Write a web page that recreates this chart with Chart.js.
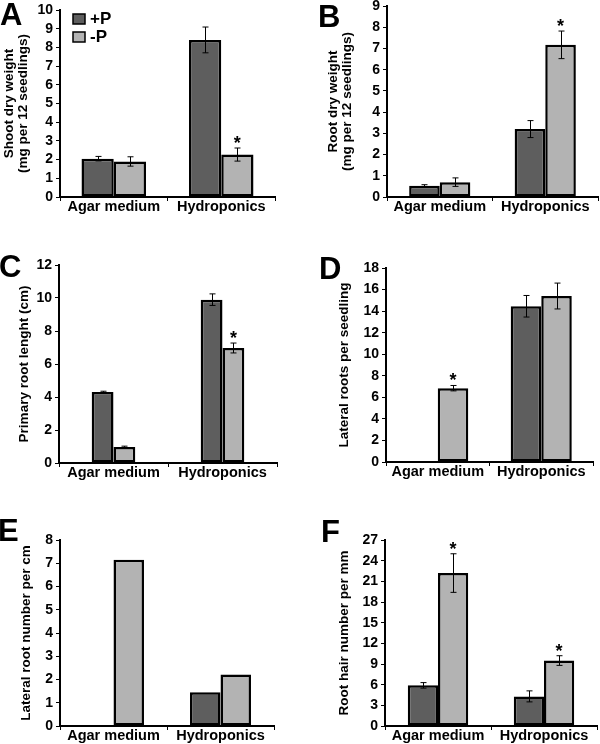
<!DOCTYPE html>
<html lang="en">
<head>
    <meta charset="UTF-8">
    <title>Shoot and root traits, +P / -P</title>
    <script src="https://cdn.jsdelivr.net/npm/chart.js"></script>
    <style>
        body {
            margin: 0;
            background: #fff;
            font-family: "Liberation Sans", Arial, sans-serif;
        }
        .page {
            position: relative;
            width: 600px;
            height: 744px;
        }
        .page canvas {
            position: absolute;
        }
        .letter {
            position: absolute;
            font-size: 31px;
            line-height: 31px;
            font-weight: bold;
            color: #000;
        }
    </style>
</head>
<body>
<div class="page">
    <canvas id="chartA" width="300" height="248" style="left:0;top:0"></canvas>
    <canvas id="chartB" width="300" height="248" style="left:300px;top:0"></canvas>
    <canvas id="chartC" width="300" height="248" style="left:0;top:248px"></canvas>
    <canvas id="chartD" width="300" height="248" style="left:300px;top:248px"></canvas>
    <canvas id="chartE" width="300" height="248" style="left:0;top:496px"></canvas>
    <canvas id="chartF" width="300" height="248" style="left:300px;top:496px"></canvas>
    <div class="letter" style="left:0;top:-1px">A</div>
    <div class="letter" style="left:318px;top:1px">B</div>
    <div class="letter" style="left:-1px;top:251px">C</div>
    <div class="letter" style="left:319px;top:253px">D</div>
    <div class="letter" style="left:-2px;top:515px">E</div>
    <div class="letter" style="left:321px;top:516px">F</div>
</div>
<script>
    // data
    const categories = ['Agar medium', 'Hydroponics'];
    const seriesNames = ['+P', '-P'];

    // A - shoot dry weight (mg per 12 seedlings)
    const shootPlus = [2.05, 8.4];
    const shootMinus = [1.9, 2.27];
    const shootPlusErr = [0.12, 0.69];
    const shootMinusErr = [0.25, 0.35];
    const shootStars = [false, true];

    // B - root dry weight (mg per 12 seedlings)
    const rootPlus = [0.53, 3.2];
    const rootMinus = [0.7, 7.17];
    const rootPlusErr = [0.05, 0.4];
    const rootMinusErr = [0.2, 0.65];
    const rootStars = [false, true];

    // C - primary root length (cm)
    const primaryPlus = [4.3, 9.9];
    const primaryMinus = [0.97, 6.97];
    const primaryPlusErr = [0.05, 0.35];
    const primaryMinusErr = [0.05, 0.3];
    const primaryStars = [false, true];

    // D - lateral roots per seedling
    const lateralPlus = [0.1, 14.45];
    const lateralMinus = [6.85, 15.4];
    const lateralPlusErr = [0, 1.0];
    const lateralMinusErr = [0.25, 1.2];
    const lateralStars = [true, false];

    // E - lateral root number per cm (no error bars)
    const densityPlus = [0.03, 1.45];
    const densityMinus = [7.15, 2.22];

    // F - root hair number per mm
    const hairPlus = [5.9, 4.3];
    const hairMinus = [22.2, 9.5];
    const hairPlusErr = [0.4, 0.8];
    const hairMinusErr = [2.8, 0.7];
    const hairStars = [true, true];

    const darkGray = '#5e5e5e';
    const lightGray = '#b3b3b3';
    const FONT = '"Liberation Sans", Arial, sans-serif';

    // error bars and asterisks
    const errorStars = {
        id: 'errorStars',
        afterDatasetsDraw(chart, args, opts) {
            const ctx = chart.ctx;
            const y = chart.scales.y;
            ctx.save();
            ctx.strokeStyle = '#000';
            ctx.lineWidth = 1;
            chart.data.datasets.forEach((ds, i) => {
                const errs = opts.errs ? opts.errs[i] : null;
                const stars = opts.stars ? opts.stars[i] : null;
                chart.getDatasetMeta(i).data.forEach((bar, j) => {
                    const v = ds.data[j];
                    let top = y.getPixelForValue(v);
                    if (errs && errs[j] > 0) {
                        const hi = y.getPixelForValue(v + errs[j]);
                        const lo = y.getPixelForValue(v - errs[j]);
                        const x = Math.round(bar.x) + 0.5;
                        ctx.beginPath();
                        ctx.moveTo(x, hi); ctx.lineTo(x, lo);
                        ctx.moveTo(x - 3, hi); ctx.lineTo(x + 3, hi);
                        ctx.moveTo(x - 3, lo); ctx.lineTo(x + 3, lo);
                        ctx.stroke();
                        top = hi;
                    }
                    if (stars && stars[j]) {
                        ctx.fillStyle = '#000';
                        ctx.font = 'bold 18px ' + FONT;
                        ctx.textAlign = 'center';
                        ctx.textBaseline = 'alphabetic';
                        ctx.fillText('*', bar.x, top + 1);
                    }
                });
            });
            ctx.restore();
        }
    };

    // small box legend inside the plot area (panel A only)
    const boxLegend = {
        id: 'boxLegend',
        afterDraw(chart, args, opts) {
            if (!opts.show) return;
            const ctx = chart.ctx;
            const a = chart.chartArea;
            ctx.save();
            chart.data.datasets.forEach((ds, i) => {
                const bx = a.left + 13;
                const by = a.top + 4 + i * 18;
                ctx.fillStyle = ds.backgroundColor;
                ctx.fillRect(bx, by, 12, 10);
                ctx.strokeStyle = '#000';
                ctx.lineWidth = 1.5;
                ctx.strokeRect(bx, by, 12, 10);
                ctx.fillStyle = '#000';
                ctx.font = 'bold 17px ' + FONT;
                ctx.textAlign = 'left';
                ctx.textBaseline = 'middle';
                ctx.fillText(ds.label, bx + 17, by + 5);
            });
            ctx.restore();
        }
    };

    function makePanel(id, p) {
        const H = 248, W = 300;
        const datasets = [p.plus, p.minus].map((vals, i) => ({
            label: seriesNames[i],
            data: vals,
            backgroundColor: i === 0 ? darkGray : lightGray,
            borderColor: '#000',
            borderWidth: 2.5,
            borderSkipped: false,
            categoryPercentage: p.catPct,
            barPercentage: 1.0
        }));
        new Chart(document.getElementById(id).getContext('2d'), {
            type: 'bar',
            data: { labels: categories, datasets: datasets },
            options: {
                responsive: false,
                animation: false,
                devicePixelRatio: 1,
                layout: { padding: { left: 0, top: p.top, right: W - p.right, bottom: 0 } },
                plugins: {
                    legend: { display: false },
                    tooltip: { enabled: false },
                    errorStars: { errs: p.errs, stars: p.stars },
                    boxLegend: { show: !!p.legend }
                },
                scales: {
                    x: {
                        offset: true,
                        grid: { offset: true, drawOnChartArea: false, tickLength: 4, color: '#000', lineWidth: 1 },
                        border: { color: '#000', width: 2 },
                        ticks: { color: '#000', padding: -3, maxRotation: 0, autoSkip: false,
                                 font: { family: FONT, size: 14.5, weight: 'bold' } },
                        afterFit: s => { s.height = H - p.bottom; s.paddingLeft = 0; s.paddingRight = 0; }
                    },
                    y: {
                        min: 0,
                        max: p.max,
                        grid: { drawOnChartArea: false, tickLength: 4, color: '#000', lineWidth: 1 },
                        border: { color: '#000', width: 2 },
                        ticks: { stepSize: p.step, autoSkip: false, maxTicksLimit: 20, color: '#000', padding: 3,
                                 font: { family: FONT, size: 14, weight: 'bold', lineHeight: 1.0 } },
                        title: { display: true, text: p.title, color: '#000',
                                 padding: { top: p.titlePad, bottom: 0 },
                                 font: { family: FONT, size: 13.5, weight: 'bold', lineHeight: 1.1 } },
                        afterFit: s => { s.width = p.left; s.paddingTop = 0; s.paddingBottom = 0; }
                    }
                }
            },
            plugins: [errorStars, boxLegend]
        });
    }

    makePanel('chartA', {
        plus: shootPlus, minus: shootMinus, errs: [shootPlusErr, shootMinusErr], stars: [null, shootStars],
        max: 10, step: 1, title: ['Shoot dry weight', '(mg per 12 seedlings)'], titlePad: 1.5,
        left: 60, top: 10, right: 275, bottom: 197, catPct: 0.6, legend: true
    });
    makePanel('chartB', {
        plus: rootPlus, minus: rootMinus, errs: [rootPlusErr, rootMinusErr], stars: [null, rootStars],
        max: 9, step: 1, title: ['Root dry weight', '(mg per 12 seedlings)'], titlePad: 25.5,
        left: 87, top: 6, right: 298, bottom: 197, catPct: 0.58
    });
    makePanel('chartC', {
        plus: primaryPlus, minus: primaryMinus, errs: [primaryPlusErr, primaryMinusErr], stars: [null, primaryStars],
        max: 12, step: 2, title: 'Primary root lenght (cm)', titlePad: 16.5,
        left: 59, top: 17, right: 277, bottom: 215, catPct: 0.4
    });
    makePanel('chartD', {
        plus: lateralPlus, minus: lateralMinus, errs: [lateralPlusErr, lateralMinusErr], stars: [null, lateralStars],
        max: 18, step: 2, title: 'Lateral roots per seedling', titlePad: 36.5,
        left: 86, top: 20, right: 293, bottom: 214, catPct: 0.59
    });
    makePanel('chartE', {
        plus: densityPlus, minus: densityMinus, errs: null, stars: null,
        max: 8, step: 1, title: 'Lateral root number per cm', titlePad: 18.5,
        left: 60, top: 44, right: 274, bottom: 230, catPct: 0.57
    });
    makePanel('chartF', {
        plus: hairPlus, minus: hairMinus, errs: [hairPlusErr, hairMinusErr], stars: [null, hairStars],
        max: 27, step: 3, title: 'Root hair number per mm', titlePad: 36.5,
        left: 85, top: 44, right: 297, bottom: 230, catPct: 0.57
    });
</script>
</body>
</html>
